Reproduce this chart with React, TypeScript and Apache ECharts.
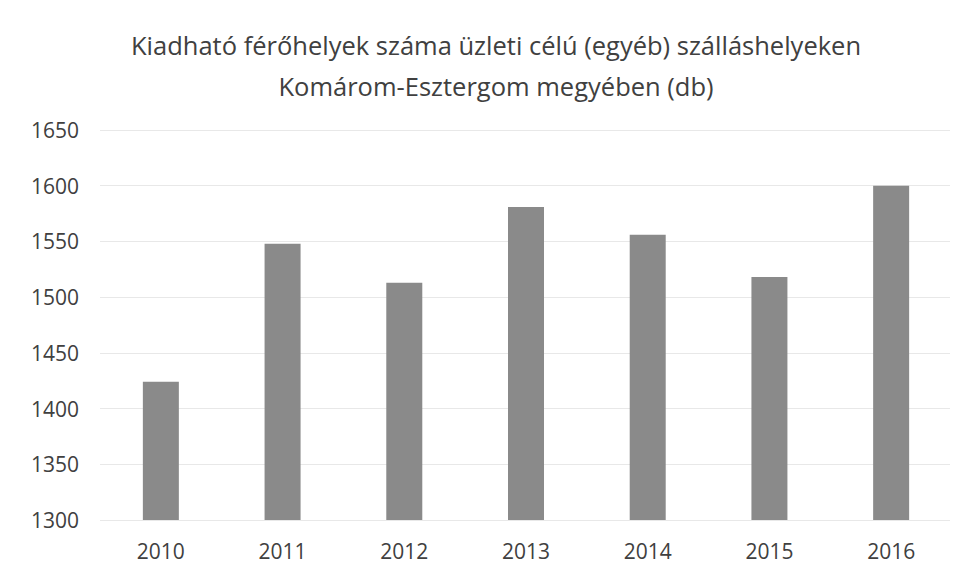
import React, { useEffect, useRef } from "react";
import * as echarts from "echarts";

const categories = ["2010", "2011", "2012", "2013", "2014", "2015", "2016"];
const values = [1424, 1548, 1513, 1581, 1556, 1518, 1600];
const titleLines = [
  "Kiadható férőhelyek száma üzleti célú (egyéb) szálláshelyeken",
  "Komárom-Esztergom megyében (db)",
];

export default function App() {
  const ref = useRef<HTMLDivElement>(null);
  useEffect(() => {
    if (!ref.current) return;
    const chart = echarts.init(ref.current, undefined, { renderer: "svg" });
    chart.setOption({
      animation: false,
      backgroundColor: "#ffffff",
      title: {
        text: titleLines.join("\n"),
        left: 491,
        textAlign: "center",
        top: 19,
        textStyle: {
          fontFamily: "Open Sans",
          fontSize: 25.5,
          fontWeight: "normal",
          color: "#404040",
          lineHeight: 41,
        },
      },
      grid: { left: 100, right: 6, top: 130, bottom: 56 },
      xAxis: {
        type: "category",
        data: categories,
        axisLine: { show: false },
        axisTick: { show: false },
        axisLabel: {
          fontFamily: "Open Sans",
          fontSize: 21,
          color: "#404040",
          margin: 20,
        },
      },
      yAxis: {
        type: "value",
        min: 1300,
        max: 1650,
        interval: 50,
        axisLine: { show: false },
        axisTick: { show: false },
        splitLine: { lineStyle: { color: "#e8e8e8", width: 1 } },
        axisLabel: {
          fontFamily: "Open Sans",
          fontSize: 21,
          color: "#404040",
          margin: 21,
          formatter: (v: number) => String(v),
        },
      },
      series: [
        {
          type: "bar",
          data: values,
          barWidth: 36,
          itemStyle: { color: "#8a8a8a" },
        },
      ],
    });
    return () => chart.dispose();
  }, []);
  return <div ref={ref} style={{ width: 958, height: 576, margin: -8 }} />;
}
